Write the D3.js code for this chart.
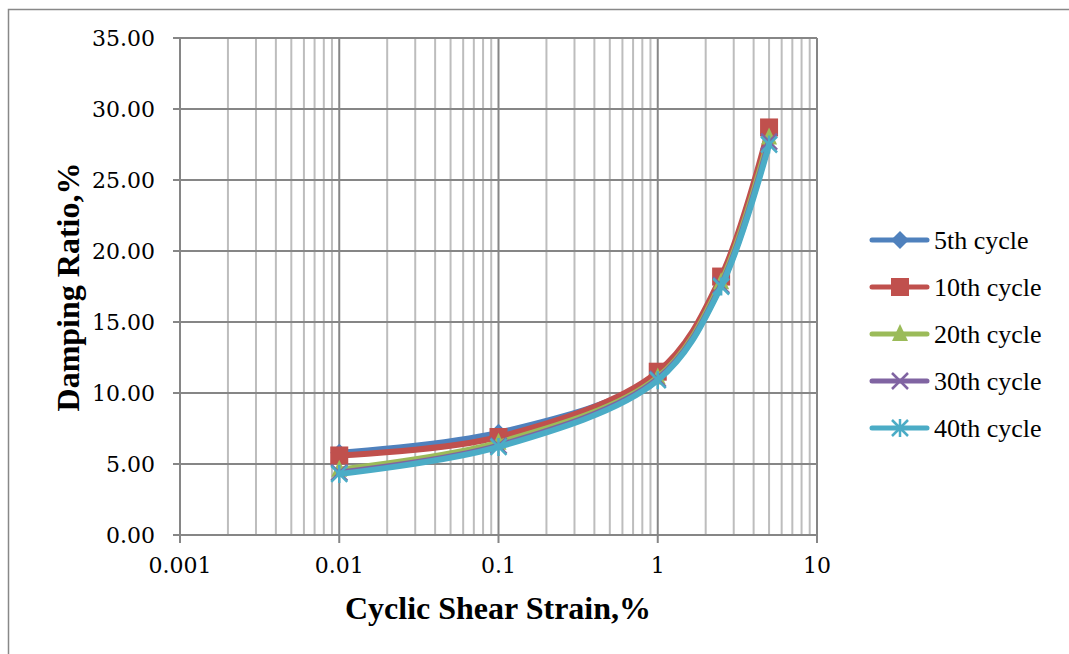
<!DOCTYPE html>
<html><head><meta charset="utf-8">
<script src="https://cdn.jsdelivr.net/npm/d3@7"></script>
<style>body{margin:0;background:#fff}svg{display:block}</style>
</head><body>
<script>
const strains = [0.01, 0.1, 1, 2.5, 5];
const seriesNames = ["5th cycle", "10th cycle", "20th cycle", "30th cycle", "40th cycle"];
const cycle5  = [5.8, 7.2, 11.3, 18.0, 28.3];
const cycle10 = [5.6, 6.9, 11.5, 18.2, 28.7];
const cycle20 = [4.6, 6.5, 11.1, 17.8, 28.0];
const cycle30 = [4.4, 6.3, 11.0, 17.6, 27.7];
const cycle40 = [4.3, 6.2, 10.9, 17.5, 27.5];
const seriesValues = [cycle5, cycle10, cycle20, cycle30, cycle40];
const colors = ["#4F81BD", "#C0504D", "#9BBB59", "#8064A2", "#4BACC6"];
const markers = ["diamond", "square", "triangle", "x", "asterisk"];
const yTicks = [0, 5, 10, 15, 20, 25, 30, 35];
const xTickLabels = ["0.001", "0.01", "0.1", "1", "10"];
const xTitle = "Cyclic Shear Strain,%";
const yTitle = "Damping Ratio,%";

const W = 1069, H = 654;
const svg = d3.select("body").append("svg").attr("width", W).attr("height", H);

svg.append("rect").attr("x", 8.5).attr("y", 9.5).attr("width", W + 10).attr("height", H + 10)
  .attr("fill", "none").attr("stroke", "#888").attr("stroke-width", 1.5);

const L = 180, R = 817, T = 38, B = 535;
const x = d3.scaleLog().domain([0.001, 10]).range([L, R]);
const y = d3.scaleLinear().domain([0, 35]).range([B, T]);

// minor vertical gridlines
const minor = [];
for (let e = -3; e < 1; e++) for (let k = 2; k <= 9; k++) minor.push(k * Math.pow(10, e));
svg.append("g").selectAll("line").data(minor).join("line")
  .attr("x1", d => x(d)).attr("x2", d => x(d)).attr("y1", T).attr("y2", B)
  .attr("stroke", "#bdbdbd").attr("stroke-width", 2);
// major vertical gridlines
const majors = xTickLabels.map(Number);
svg.append("g").selectAll("line").data(majors).join("line")
  .attr("x1", d => x(d)).attr("x2", d => x(d)).attr("y1", T).attr("y2", B + 8)
  .attr("stroke", "#868686").attr("stroke-width", 2);
// horizontal gridlines
svg.append("g").selectAll("line").data(yTicks).join("line")
  .attr("x1", L - 7).attr("x2", R).attr("y1", d => y(d)).attr("y2", d => y(d))
  .attr("stroke", "#868686").attr("stroke-width", 2);

// tick labels
svg.append("g").selectAll("text").data(yTicks).join("text")
  .attr("x", 155).attr("y", d => y(d)).attr("dy", "0.36em").attr("text-anchor", "end")
  .attr("font-family", "DejaVu Serif").attr("font-size", 22).attr("fill", "#000")
  .text(d => d.toFixed(2));
svg.append("g").selectAll("text").data(xTickLabels).join("text")
  .attr("x", d => x(+d)).attr("y", 573).attr("text-anchor", "middle")
  .attr("font-family", "DejaVu Serif").attr("font-size", 22).attr("fill", "#000")
  .text(d => d);

// titles
svg.append("text").attr("x", 498).attr("y", 619).attr("text-anchor", "middle")
  .attr("font-family", "Liberation Serif").attr("font-weight", "bold").attr("font-size", 32)
  .text(xTitle);
svg.append("text").attr("transform", "translate(79,287) rotate(-90)").attr("text-anchor", "middle")
  .attr("font-family", "Liberation Serif").attr("font-weight", "bold").attr("font-size", 32)
  .text(yTitle);

function drawMarker(g, type, cx, cy, color) {
  if (type === "diamond") {
    g.append("path").attr("d", `M${cx},${cy-9}L${cx+9},${cy}L${cx},${cy+9}L${cx-9},${cy}Z`).attr("fill", color);
  } else if (type === "square") {
    g.append("rect").attr("x", cx - 9).attr("y", cy - 9).attr("width", 18).attr("height", 18).attr("fill", color);
  } else if (type === "triangle") {
    g.append("path").attr("d", `M${cx},${cy-10}L${cx+8},${cy+7}L${cx-8},${cy+7}Z`).attr("fill", color);
  } else if (type === "x") {
    g.append("path").attr("d", `M${cx-8},${cy-8}L${cx+8},${cy+8}M${cx+8},${cy-8}L${cx-8},${cy+8}`)
      .attr("stroke", color).attr("stroke-width", 2.5).attr("fill", "none");
  } else if (type === "asterisk") {
    g.append("path").attr("d", `M${cx-8},${cy-8}L${cx+8},${cy+8}M${cx+8},${cy-8}L${cx-8},${cy+8}M${cx},${cy-9}L${cx},${cy+9}`)
      .attr("stroke", color).attr("stroke-width", 2.5).attr("fill", "none");
  }
}

const line = d3.line().x(d => x(d[0])).y(d => y(d[1])).curve(d3.curveCatmullRom.alpha(0.5));
seriesValues.forEach((vals, i) => {
  const g = svg.append("g");
  const pts = strains.map((s, j) => [s, vals[j]]);
  g.append("path").datum(pts).attr("d", line).attr("fill", "none")
    .attr("stroke", colors[i]).attr("stroke-width", 6).attr("stroke-linecap", "round");
  pts.forEach(p => drawMarker(g, markers[i], x(p[0]), y(p[1]), colors[i]));
});

// legend
const lg = svg.append("g");
seriesNames.forEach((name, i) => {
  const cy = 240 + i * 47;
  lg.append("line").attr("x1", 872).attr("x2", 927).attr("y1", cy).attr("y2", cy)
    .attr("stroke", colors[i]).attr("stroke-width", 5).attr("stroke-linecap", "round");
  drawMarker(lg, markers[i], 900, cy, colors[i]);
  lg.append("text").attr("x", 934).attr("y", cy).attr("dy", "0.35em")
    .attr("font-family", "Liberation Serif").attr("font-size", 26).text(name);
});
</script>
</body></html>
